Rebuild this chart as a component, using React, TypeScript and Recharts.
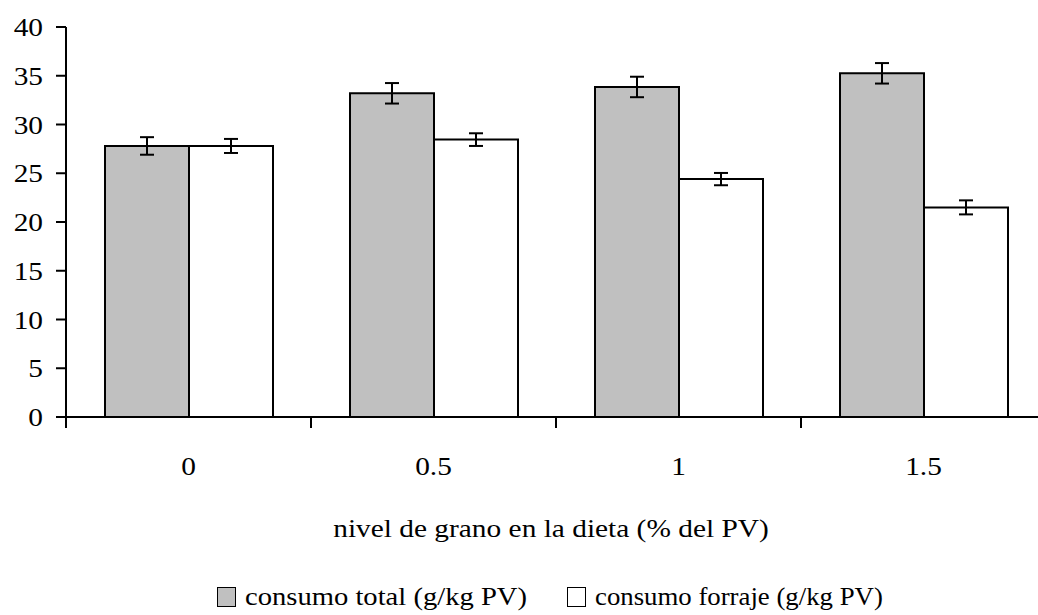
import { BarChart, Bar, XAxis, YAxis, ErrorBar, Legend, Label } from 'recharts';

const categories = ['0', '0.5', '1', '1.5'];
const consumoTotal = [27.8, 33.2, 33.85, 35.25];
const consumoTotalErr = [0.9, 1.05, 1.05, 1.05];
const consumoForraje = [27.8, 28.45, 24.4, 21.5];
const consumoForrajeErr = [0.72, 0.65, 0.63, 0.72];
const yTicks = [0, 5, 10, 15, 20, 25, 30, 35, 40];

const data = categories.map((name, i) => ({
  name,
  total: consumoTotal[i],
  totalErr: consumoTotalErr[i],
  forraje: consumoForraje[i],
  forrajeErr: consumoForrajeErr[i],
}));

const FONT = '"Liberation Serif", "Times New Roman", serif';
const SX = 1.13; // source text looks horizontally stretched
const CHART_W = 1060;
const MARGIN = { top: 27, right: 14, left: 6, bottom: 48 };
const Y_AXIS_W = 60;
const PLOT_W = CHART_W - MARGIN.left - MARGIN.right - Y_AXIS_W;
const BAND = PLOT_W / categories.length;

const SText = ({ x, y, anchor, children }: any) => (
  <text
    transform={`translate(${x},${y}) scale(${SX},1)`}
    textAnchor={anchor}
    fontFamily={FONT}
    fontSize={26}
    fill="#000"
  >
    {children}
  </text>
);

const YTick = ({ x, y, payload }: any) => (
  <SText x={x} y={y + 9} anchor="end">{payload.value}</SText>
);

const XTick = ({ x, y, payload, index }: any) => {
  const left = x - BAND / 2;
  const right = x + BAND / 2;
  return (
    <g>
      <line x1={left} y1={y} x2={left} y2={y + 11} stroke="#000" strokeWidth={2} />
      {index === categories.length - 1 && (
        <line x1={right} y1={y} x2={right} y2={y + 11} stroke="#000" strokeWidth={2} />
      )}
      <SText x={x} y={y + 58} anchor="middle">{payload.value}</SText>
    </g>
  );
};

const AxisTitle = ({ viewBox }: any) => (
  <SText x={viewBox.x + viewBox.width / 2 - 5} y={viewBox.y + 120} anchor="middle">
    nivel de grano en la dieta (% del PV)
  </SText>
);

// legend: left offset inside the legend row and horizontal text stretch per item
const legendItems = [
  { label: 'consumo total (g/kg PV)', fill: '#c0c0c0', left: 0, sx: 1.1 },
  { label: 'consumo forraje (g/kg PV)', fill: '#ffffff', left: 350, sx: 1.03 },
];

const CustomLegend = () => (
  <div
    style={{
      position: 'relative',
      height: 26,
      fontFamily: FONT,
      fontSize: 26,
      lineHeight: '26px',
      color: '#000',
      whiteSpace: 'nowrap',
    }}
  >
    {legendItems.map((item) => (
      <div
        key={item.label}
        style={{ position: 'absolute', left: item.left, top: 0, display: 'flex', alignItems: 'center', height: 26 }}
      >
        <span
          style={{
            display: 'inline-block',
            width: 17,
            height: 18,
            background: item.fill,
            border: '1.5px solid #000',
            marginRight: 9,
          }}
        />
        <span style={{ display: 'inline-block', transform: `scaleX(${item.sx})`, transformOrigin: 'left center' }}>
          {item.label}
        </span>
      </div>
    ))}
  </div>
);

export default function App() {
  return (
    <div style={{ position: 'absolute', left: 0, top: 0, width: 1038, height: 615, overflow: 'hidden', background: '#fff' }}>
      <BarChart
        width={CHART_W}
        height={615}
        data={data}
        margin={MARGIN}
        barGap={0}
        barSize={84}
      >
        <XAxis
          dataKey="name"
          height={150}
          tick={<XTick />}
          tickLine={false}
          tickSize={0}
          tickMargin={0}
          axisLine={{ stroke: '#000', strokeWidth: 2 }}
          interval={0}
        >
          <Label content={<AxisTitle />} />
        </XAxis>
        <YAxis
          width={Y_AXIS_W}
          domain={[0, 40]}
          ticks={yTicks}
          interval={0}
          tick={<YTick />}
          tickSize={10}
          tickMargin={13}
          tickLine={{ stroke: '#000', strokeWidth: 2 }}
          axisLine={{ stroke: '#000', strokeWidth: 2 }}
        />
        <Legend
          layout="horizontal"
          verticalAlign="middle"
          align="center"
          content={<CustomLegend />}
          wrapperStyle={{ top: 584, left: 217, width: 800, height: 26 }}
        />
        <Bar dataKey="total" name="consumo total (g/kg PV)" fill="#c0c0c0" stroke="#000" strokeWidth={2} isAnimationActive={false}>
          <ErrorBar dataKey="totalErr" width={7} stroke="#000" strokeWidth={2} direction="y" isAnimationActive={false} />
        </Bar>
        <Bar dataKey="forraje" name="consumo forraje (g/kg PV)" fill="#ffffff" stroke="#000" strokeWidth={2} isAnimationActive={false}>
          <ErrorBar dataKey="forrajeErr" width={7} stroke="#000" strokeWidth={2} direction="y" isAnimationActive={false} />
        </Bar>
      </BarChart>
    </div>
  );
}
